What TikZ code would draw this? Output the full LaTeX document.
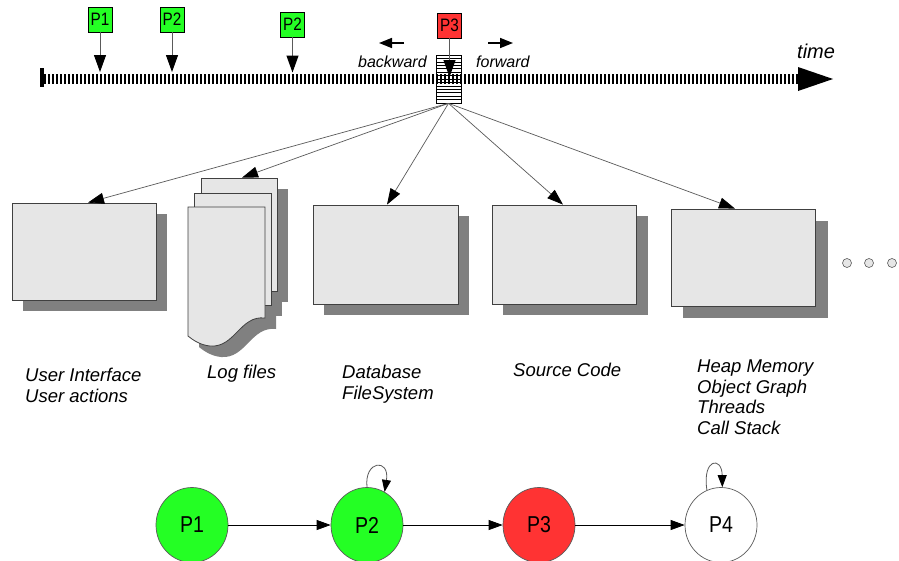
\documentclass[tikz,border=0pt]{standalone}
\usepackage{fontspec}
\setmainfont{Liberation Sans}
\newfontfamily\plabel[FakeStretch=0.85]{Liberation Sans}
\usetikzlibrary{arrows.meta,shapes.geometric,calc}
\definecolor{pgreen}{RGB}{36,255,36}
\definecolor{pred}{RGB}{255,51,51}
\definecolor{boxfill}{RGB}{230,230,230}
\definecolor{boxline}{RGB}{64,64,64}
\definecolor{shadowgray}{RGB}{128,128,128}
\definecolor{linegray}{RGB}{90,90,90}
\tikzset{
  pbox/.style={draw=black, line width=0.7pt, minimum width=24pt, minimum height=25pt, inner sep=0pt,
    font=\plabel\fontsize{18}{18}\selectfont},
  panel/.style={draw=boxline, fill=boxfill, line width=0.8pt, inner sep=0pt},
  shade/.style={fill=shadowgray, draw=none},
  parrow/.style={draw=linegray, line width=1pt, -{Triangle[length=17pt,width=12pt,color=black,fill=black]}},
  fanarrow/.style={draw=linegray, line width=0.7pt, -{Triangle[length=16pt,width=11pt,color=black,fill=black]}},
  dirarrow/.style={draw=black, line width=1.6pt, -{Triangle[length=13pt,width=10pt]}},
  statenode/.style={ellipse, draw=linegray, line width=0.7pt, minimum width=72pt, minimum height=75pt, inner sep=0pt,
    font=\plabel\fontsize{23}{23}\selectfont},
  edgearrow/.style={draw=black, line width=0.8pt, -{Triangle[length=14pt,width=10pt]}},
  looparrow/.style={draw=linegray, line width=0.8pt, -{Triangle[length=12pt,width=9pt,color=black,fill=black]}},
  lbl/.style={anchor=base west, inner sep=0pt, font=\itshape\fontsize{18.5}{21}\selectfont},
  smalllbl/.style={anchor=base west, inner sep=0pt, font=\itshape\fontsize{16}{18}\selectfont},
  dotnode/.style={circle, draw=linegray, fill=boxfill, line width=0.6pt, minimum size=9pt, inner sep=0pt}
}
\begin{document}
\begin{tikzpicture}[x=1pt,y=-1pt]
\useasboundingbox[fill=white] (0,0) rectangle (899,560);

% ---------- stack box (snapshot) ----------
\node[draw=black, fill=white, line width=0.7pt, minimum width=25pt, minimum height=48pt, inner sep=0pt] (stk) at (448.5,79) {};
\foreach \k in {1,...,13} {
  \draw[line width=0.6pt] (436,55+\k*3.43) -- (461,55+\k*3.43);
}

% ---------- timeline ----------
\fill (40,68) rectangle (43.5,87);
\coordinate (tlstart) at (44,79);
\coordinate (tlend) at (800,79);
\draw[line width=10pt, dash pattern=on 2.3pt off 1.7pt] (tlstart) -- (tlend);
\fill (798,67) -- (833,79) -- (798,91) -- cycle;
\node[anchor=base west, inner sep=0pt, font=\itshape\fontsize{20}{22}\selectfont] (time) at (797,58.5) {time};

% ---------- process markers ----------
\node[pbox, fill=pgreen] (m1) at (100,19.5) {P1};
\node[pbox, fill=pgreen] (m2) at (172,19.5) {P2};
\node[pbox, fill=pgreen] (m3) at (292.5,24.5) {P2};
\node[pbox, fill=pred] (m4) at (449.5,25.5) {P3};
\coordinate (t1) at (100,72);
\coordinate (t2) at (172,72);
\coordinate (t3) at (292.5,72.5);
\coordinate (t4) at (449.5,77);
\draw[parrow] (m1) -- (t1);
\draw[parrow] (m2) -- (t2);
\draw[parrow] (m3) -- (t3);
\draw[parrow] (m4) -- (t4);

% ---------- backward / forward ----------
\coordinate (bwa) at (404,43);
\coordinate (bwb) at (379,43);
\coordinate (fwa) at (488,43);
\coordinate (fwb) at (513,43);
\draw[dirarrow] (bwa) -- (bwb);
\draw[dirarrow] (fwa) -- (fwb);
\node[smalllbl] (bw) at (358,67) {backward};
\node[smalllbl] (fw) at (476,67) {forward};

% ---------- shadows ----------
\fill[shade] (23,214) rectangle (167,311);
\fill[shade] (324,216) rectangle (469,315);
\fill[shade] (503,216) rectangle (648,315);
\fill[shade] (683,221) rectangle (828,318);
\fill[shade] (212,189) rectangle (288,302);
\fill[shade] (205,204) rectangle (282,316);
\fill[shade] (199,218) -- (276,218) -- (276,329)
   .. controls (251,326) and (246,359) .. (221,357)
   .. controls (211,356) and (204,351) .. (199,347) -- cycle;

% ---------- panels ----------
\node[panel, minimum width=144pt, minimum height=97pt] (ui) at (84,251.5) {};
\node[panel, minimum width=145pt, minimum height=99pt] (db) at (385.5,254.5) {};
\node[panel, minimum width=144pt, minimum height=99pt] (src) at (564,254.5) {};
\node[panel, minimum width=144pt, minimum height=97pt] (heap) at (743,257.5) {};

% log files pages
\node[panel, minimum width=76pt, minimum height=113pt] (logback) at (239,234.5) {};
\node[panel, minimum width=77pt, minimum height=112pt] (logmid) at (232.5,249) {};
\draw[draw=boxline, fill=boxfill, line width=0.8pt] (188,207) -- (265,207) -- (265,318)
   .. controls (240,315) and (235,348) .. (210,346)
   .. controls (200,345) and (193,340) .. (188,336) -- cycle;

% ---------- fan of arrows ----------
\draw[fanarrow] (stk.south) -- ($(ui.north)+(4,0)$);
\draw[fanarrow] (stk.south) -- ($(logback.north)+(3,0)$);
\draw[fanarrow] (stk.south) -- ($(db.north)+(1.5,0)$);
\draw[fanarrow] (stk.south) -- ($(src.north)+(-1,0)$);
\draw[fanarrow] (stk.south) -- ($(heap.north)+(-8,0)$);

% ---------- ellipsis dots ----------
\node[dotnode] (d1) at (847,263) {};
\node[dotnode] (d2) at (869,263) {};
\node[dotnode] (d3) at (892,263) {};

% ---------- labels ----------
\node[lbl] (l1a) at (25,381.5) {User Interface};
\node[lbl] (l1b) at (25,402.5) {User actions};
\node[lbl] (l2) at (207,378.5) {Log files};
\node[lbl] (l3a) at (342,378) {Database};
\node[lbl] (l3b) at (342,399) {FileSystem};
\node[lbl] (l4) at (513,376) {Source Code};
\node[lbl] (l5a) at (697,372.5) {Heap Memory};
\node[lbl] (l5b) at (697,393) {Object Graph};
\node[lbl] (l5c) at (697,413.5) {Threads};
\node[lbl] (l5d) at (697,434) {Call Stack};

% ---------- state graph ----------
\node[statenode, fill=pgreen] (p1) at (192,525) {P1};
\node[statenode, fill=pgreen] (p2) at (367,525) {P2};
\node[statenode, fill=pred] (p3) at (539,525) {P3};
\node[statenode, fill=white] (p4) at (721,525) {P4};
\draw[edgearrow] (p1) -- (p2);
\draw[edgearrow] (p2) -- (p3);
\draw[edgearrow] (p3) -- (p4);
\draw[looparrow] (p2.north) .. controls (364,460) and (390,458) .. (p2.62);
\draw[looparrow] (p4.112) .. controls (702,458) and (722,456) .. (p4.88);
\end{tikzpicture}
\end{document}
